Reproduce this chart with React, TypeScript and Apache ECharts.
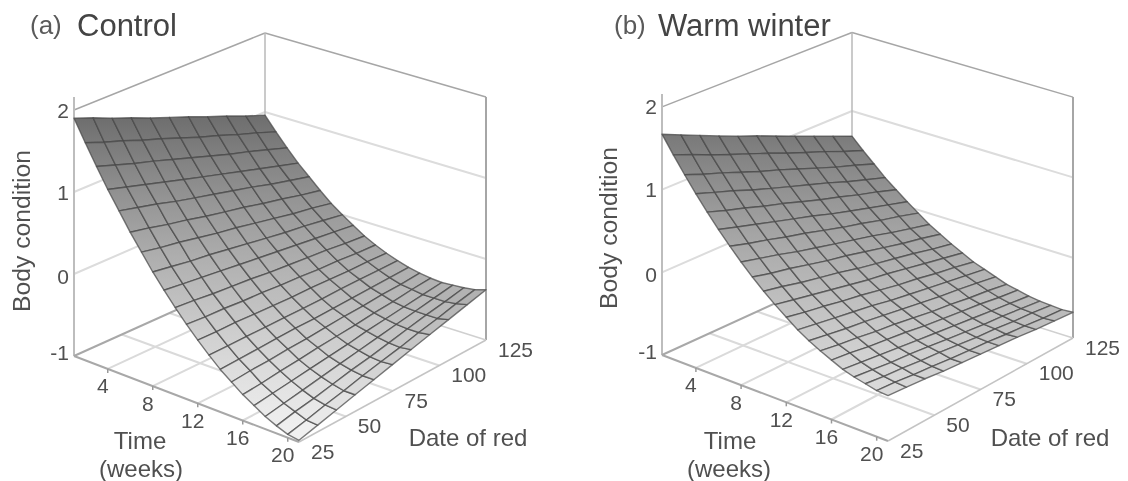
import React, { useEffect, useRef } from "react";
import * as echarts from "echarts";

// ---- data ----
const weeks = [1, 2, 3, 4, 5, 6, 7, 8, 9, 10, 11, 12, 13, 14, 15, 16, 17, 18, 19, 20, 21];
const dates = [25, 35, 45, 55, 65, 75, 85, 95, 105, 115, 125];
const timeTicks = [4, 8, 12, 16, 20];
const dateTicks = [25, 50, 75, 100, 125];
const dateFloorLines = [50, 75, 100];
const timeFloorLines = [4, 8, 12, 16];
const bodyTicks = [2, 1, 0, -1];

const controlSurface = [
  [1.9, 1.81, 1.71, 1.62, 1.52, 1.43, 1.34, 1.24, 1.15, 1.05, 0.96],
  [1.65, 1.56, 1.48, 1.39, 1.31, 1.22, 1.13, 1.05, 0.96, 0.88, 0.79],
  [1.41, 1.33, 1.25, 1.18, 1.1, 1.02, 0.94, 0.86, 0.79, 0.71, 0.63],
  [1.18, 1.11, 1.04, 0.97, 0.9, 0.83, 0.76, 0.69, 0.62, 0.55, 0.48],
  [0.97, 0.91, 0.85, 0.78, 0.72, 0.66, 0.6, 0.54, 0.47, 0.41, 0.35],
  [0.76, 0.71, 0.65, 0.6, 0.54, 0.49, 0.44, 0.38, 0.33, 0.27, 0.22],
  [0.57, 0.52, 0.48, 0.43, 0.38, 0.34, 0.29, 0.24, 0.19, 0.15, 0.1],
  [0.38, 0.34, 0.3, 0.27, 0.23, 0.19, 0.15, 0.11, 0.08, 0.04, 0],
  [0.21, 0.18, 0.15, 0.12, 0.09, 0.06, 0.03, 0, -0.03, -0.06, -0.09],
  [0.05, 0.03, 0, -0.02, -0.04, -0.07, -0.09, -0.11, -0.13, -0.16, -0.18],
  [-0.1, -0.12, -0.13, -0.15, -0.16, -0.18, -0.19, -0.21, -0.22, -0.24, -0.25],
  [-0.24, -0.25, -0.25, -0.26, -0.27, -0.28, -0.28, -0.29, -0.3, -0.3, -0.31],
  [-0.37, -0.37, -0.37, -0.37, -0.37, -0.37, -0.37, -0.36, -0.36, -0.36, -0.36],
  [-0.49, -0.48, -0.47, -0.46, -0.45, -0.45, -0.44, -0.43, -0.42, -0.41, -0.4],
  [-0.59, -0.57, -0.56, -0.54, -0.53, -0.51, -0.49, -0.48, -0.46, -0.45, -0.43],
  [-0.69, -0.67, -0.64, -0.62, -0.59, -0.57, -0.55, -0.52, -0.5, -0.47, -0.45],
  [-0.77, -0.74, -0.71, -0.68, -0.65, -0.62, -0.58, -0.55, -0.52, -0.49, -0.46],
  [-0.85, -0.81, -0.77, -0.73, -0.69, -0.65, -0.61, -0.57, -0.53, -0.49, -0.45],
  [-0.91, -0.86, -0.82, -0.77, -0.72, -0.68, -0.63, -0.58, -0.53, -0.49, -0.44],
  [-0.96, -0.91, -0.85, -0.8, -0.74, -0.69, -0.64, -0.58, -0.53, -0.47, -0.42],
  [-0.98, -0.92, -0.86, -0.8, -0.74, -0.68, -0.62, -0.56, -0.5, -0.44, -0.38],
];

const warmSurface = [
  [1.67, 1.57, 1.47, 1.37, 1.27, 1.18, 1.08, 0.98, 0.88, 0.78, 0.68],
  [1.47, 1.38, 1.28, 1.19, 1.1, 1.01, 0.91, 0.82, 0.73, 0.63, 0.54],
  [1.28, 1.19, 1.11, 1.02, 0.93, 0.85, 0.76, 0.67, 0.58, 0.5, 0.41],
  [1.1, 1.02, 0.94, 0.85, 0.77, 0.69, 0.61, 0.53, 0.44, 0.36, 0.28],
  [0.93, 0.85, 0.78, 0.7, 0.63, 0.55, 0.47, 0.4, 0.32, 0.25, 0.17],
  [0.77, 0.7, 0.63, 0.56, 0.49, 0.42, 0.34, 0.27, 0.2, 0.13, 0.06],
  [0.62, 0.55, 0.49, 0.42, 0.36, 0.29, 0.22, 0.16, 0.09, 0.03, -0.04],
  [0.48, 0.42, 0.36, 0.29, 0.23, 0.17, 0.11, 0.05, -0.02, -0.08, -0.14],
  [0.35, 0.29, 0.24, 0.18, 0.12, 0.07, 0.01, -0.05, -0.11, -0.16, -0.22],
  [0.23, 0.18, 0.12, 0.07, 0.02, -0.04, -0.09, -0.14, -0.19, -0.25, -0.3],
  [0.12, 0.07, 0.02, -0.03, -0.08, -0.13, -0.17, -0.22, -0.27, -0.32, -0.37],
  [0.02, -0.03, -0.07, -0.12, -0.16, -0.21, -0.26, -0.3, -0.35, -0.39, -0.44],
  [-0.08, -0.12, -0.16, -0.2, -0.24, -0.29, -0.33, -0.37, -0.41, -0.45, -0.49],
  [-0.16, -0.2, -0.24, -0.27, -0.31, -0.35, -0.39, -0.43, -0.46, -0.5, -0.54],
  [-0.23, -0.27, -0.3, -0.34, -0.37, -0.41, -0.45, -0.48, -0.52, -0.55, -0.59],
  [-0.29, -0.32, -0.36, -0.39, -0.42, -0.46, -0.49, -0.52, -0.55, -0.59, -0.62],
  [-0.35, -0.38, -0.41, -0.44, -0.47, -0.5, -0.53, -0.56, -0.59, -0.62, -0.65],
  [-0.39, -0.42, -0.45, -0.47, -0.5, -0.53, -0.56, -0.59, -0.61, -0.64, -0.67],
  [-0.42, -0.45, -0.47, -0.5, -0.52, -0.55, -0.58, -0.6, -0.63, -0.65, -0.68],
  [-0.45, -0.47, -0.5, -0.52, -0.55, -0.57, -0.59, -0.62, -0.64, -0.67, -0.69],
  [-0.46, -0.48, -0.5, -0.53, -0.55, -0.57, -0.59, -0.61, -0.64, -0.66, -0.68],
];

// ---- layout: the four floor corners of each box and the height of one unit there ----
type Pt = [number, number];
type Panel = {
  L: Pt; F: Pt; R: Pt; B: Pt;
  hL: number; hF: number; hR: number; hB: number;
  surface: number[][];
  tag: string; title: string;
  tagX: number; titleX: number;
  yLabelX: number; yLabelY: number;
  timeX: number; weeksX: number; dateLabelX: number;
};

const panels: Panel[] = [
  {
    L: [74, 356], F: [299, 442], R: [486, 340], B: [265, 270],
    hL: 82, hF: 84, hR: 81, hB: 79,
    surface: controlSurface,
    tag: "(a)", title: "Control",
    tagX: 30, titleX: 77,
    yLabelX: 21, yLabelY: 231,
    timeX: 140, weeksX: 141, dateLabelX: 468,
  },
  {
    L: [662, 355], F: [888, 441], R: [1073, 338], B: [852, 268],
    hL: 82.7, hF: 84, hR: 80.3, hB: 78.5,
    surface: warmSurface,
    tag: "(b)", title: "Warm winter",
    tagX: 614, titleX: 658,
    yLabelX: 608, yLabelY: 228,
    timeX: 730, weeksX: 729, dateLabelX: 1050,
  },
];

const FONT = "'Liberation Sans', Arial, sans-serif";
const TEXT = "#505050";

const uOf = (t: number) => (t - weeks[0]) / (weeks[weeks.length - 1] - weeks[0]);
const vOf = (d: number) => (d - dates[0]) / (dates[dates.length - 1] - dates[0]);

function project(p: Panel, t: number, d: number, z: number): Pt {
  const u = uOf(t);
  const v = vOf(d);
  const bi = (a: number, b: number, c: number, e: number) =>
    a * (1 - u) * (1 - v) + b * u * (1 - v) + c * u * v + e * (1 - u) * v;
  return [
    bi(p.L[0], p.F[0], p.R[0], p.B[0]),
    bi(p.L[1], p.F[1], p.R[1], p.B[1]) - (z + 1) * bi(p.hL, p.hF, p.hR, p.hB),
  ];
}

function shade(z: number, d: number) {
  const g = Math.max(0, Math.min(255, Math.round(110 + 46.5 * (1.9 - z - 0.94 * vOf(d)))));
  return `rgb(${g},${g},${g})`;
}

type Seg = { a: [number, number, number]; b: [number, number, number]; stroke: string; w: number; lift?: number };

function frameSegments(): Seg[] {
  const t0 = weeks[0];
  const t1 = weeks[weeks.length - 1];
  const d0 = dates[0];
  const d1 = dates[dates.length - 1];
  const segs: Seg[] = [];
  [1, 0].forEach((z) => {
    segs.push({ a: [t0, d0, z], b: [t0, d1, z], stroke: "#dcdcdc", w: 2 });
    segs.push({ a: [t0, d1, z], b: [t1, d1, z], stroke: "#dcdcdc", w: 2 });
  });
  segs.push({ a: [t0, d0, 2], b: [t0, d1, 2], stroke: "#a6a6a6", w: 1.5 });
  segs.push({ a: [t0, d1, 2], b: [t1, d1, 2], stroke: "#a6a6a6", w: 1.5 });
  segs.push({ a: [t0, d1, -1], b: [t0, d1, 2], stroke: "#b8b8b8", w: 1.5 });
  segs.push({ a: [t1, d1, -1], b: [t1, d1, 2], stroke: "#a6a6a6", w: 2 });
  segs.push({ a: [t0, d0, -1], b: [t0, d0, 2], stroke: "#bdbdbd", w: 2, lift: 13 });
  timeFloorLines.forEach((t) => segs.push({ a: [t, d0, -1], b: [t, d1, -1], stroke: "#dadada", w: 2 }));
  dateFloorLines.forEach((d) => segs.push({ a: [t0, d, -1], b: [t1, d, -1], stroke: "#dadada", w: 2 }));
  segs.push({ a: [t0, d1, -1], b: [t1, d1, -1], stroke: "#d0d0d0", w: 1.5 });
  segs.push({ a: [t0, d0, -1], b: [t0, d1, -1], stroke: "#a8a8a8", w: 2 });
  segs.push({ a: [t1, d0, -1], b: [t1, d1, -1], stroke: "#c4c4c4", w: 1.5 });
  segs.push({ a: [t0, d0, -1], b: [t1, d0, -1], stroke: "#a8a8a8", w: 2 });
  return segs;
}

function buildSeries(p: Panel) {
  const segs = frameSegments();
  const frame = {
    type: "custom",
    silent: true,
    data: segs.map((_, i) => [i, 0]),
    renderItem: (_: any, api: any) => {
      const s = segs[api.value(0)];
      const a = api.coord(project(p, s.a[0], s.a[1], s.a[2]));
      const b = api.coord(project(p, s.b[0], s.b[1], s.b[2]));
      return {
        type: "line",
        shape: { x1: a[0], y1: a[1], x2: b[0], y2: b[1] - (s.lift || 0) },
        style: { stroke: s.stroke, lineWidth: s.w, fill: "none" },
      };
    },
  };

  const ticks = {
    type: "custom",
    silent: true,
    data: timeTicks.map((t, i) => [i, 0]),
    renderItem: (_: any, api: any) => {
      const t = timeTicks[api.value(0)];
      const a = api.coord(project(p, t, dates[0], -1));
      return {
        type: "line",
        shape: { x1: a[0], y1: a[1], x2: a[0], y2: a[1] + 4 },
        style: { stroke: "#999", lineWidth: 1.5, fill: "none" },
      };
    },
  };

  const cells: number[][] = [];
  for (let i = 0; i < weeks.length - 1; i++) {
    for (let j = 0; j < dates.length - 1; j++) cells.push([i, j]);
  }
  const surface = {
    type: "custom",
    silent: true,
    data: cells,
    renderItem: (_: any, api: any) => {
      const i = api.value(0);
      const j = api.value(1);
      const m = p.surface;
      const pts = [
        [i, j],
        [i, j + 1],
        [i + 1, j + 1],
        [i + 1, j],
      ].map(([r, c]) => api.coord(project(p, weeks[r], dates[c], m[r][c])));
      const midD = (dates[j] + dates[j + 1]) / 2;
      return {
        type: "polygon",
        shape: { points: pts },
        style: {
          fill: new echarts.graphic.LinearGradient(0, 0, 0, 1, [
            { offset: 0, color: shade((m[i][j] + m[i][j + 1]) / 2, midD) },
            { offset: 1, color: shade((m[i + 1][j] + m[i + 1][j + 1]) / 2, midD) },
          ]),
          stroke: "rgba(70,70,70,0.72)",
          lineWidth: 1.4,
          lineJoin: "round",
        },
      };
    },
  };

  const mkText = (text: string, x: number, y: number, align: string) => ({
    type: "text",
    x,
    y,
    style: { text, align, verticalAlign: "middle", fontSize: 21, fontFamily: FONT, fill: TEXT },
  });

  const zTickLabels = {
    type: "custom",
    silent: true,
    data: bodyTicks.map((_, i) => [i, 0]),
    renderItem: (_: any, api: any) => {
      const z = bodyTicks[api.value(0)];
      const a = api.coord(project(p, weeks[0], dates[0], z));
      return mkText(String(z), a[0] - 5, a[1] + (z === -1 ? -4 : z === 0 ? 2 : 0), "right");
    },
  };
  const timeLabels = {
    type: "custom",
    silent: true,
    data: timeTicks.map((_, i) => [i, 0]),
    renderItem: (_: any, api: any) => {
      const t = timeTicks[api.value(0)];
      const a = api.coord(project(p, t, dates[0], -1));
      return mkText(String(t), a[0] - 5, a[1] + 17, "center");
    },
  };
  const dateLabels = {
    type: "custom",
    silent: true,
    data: dateTicks.map((_, i) => [i, 0]),
    renderItem: (_: any, api: any) => {
      const d = dateTicks[api.value(0)];
      const a = api.coord(project(p, weeks[weeks.length - 1], d, -1));
      return mkText(String(d), a[0] + 12, a[1] + 9, "left");
    },
  };
  return [frame, ticks, surface, zTickLabels, timeLabels, dateLabels];
}

function buildGraphic(p: Panel) {
  const t = (text: string, x: number, y: number, size: number, align: string, fill: string, rotation = 0) => ({
    type: "text",
    x,
    y,
    rotation,
    silent: true,
    style: { text, fontSize: size, fontFamily: FONT, fill, align, verticalAlign: "middle" },
  });
  return [
    t(p.tag, p.tagX, 25, 26, "left", "#5a5a5a"),
    t(p.title, p.titleX, 25, 31, "left", "#444"),
    t("Body condition", p.yLabelX, p.yLabelY, 24.7, "center", TEXT, Math.PI / 2),
    t("Time", p.timeX, 440, 24, "center", TEXT),
    t("(weeks)", p.weeksX, 468, 24, "center", TEXT),
    t("Date of red", p.dateLabelX, 437, 24, "center", TEXT),
  ];
}

export default function App() {
  const ref = useRef<HTMLDivElement>(null);
  useEffect(() => {
    const chart = echarts.init(ref.current!, undefined, { renderer: "svg" });
    chart.setOption({
      animation: false,
      backgroundColor: "#fff",
      grid: { left: 0, right: 0, top: 0, bottom: 0 },
      xAxis: { type: "value", min: 0, max: 1128, show: false },
      yAxis: { type: "value", min: 0, max: 481, inverse: true, show: false },
      graphic: { elements: panels.flatMap(buildGraphic) },
      series: panels.flatMap(buildSeries),
    });
    return () => chart.dispose();
  }, []);
  return (
    <div
      ref={ref}
      style={{ position: "fixed", left: 0, top: 0, width: 1128, height: 481, filter: "blur(0.6px)" }}
    />
  );
}
